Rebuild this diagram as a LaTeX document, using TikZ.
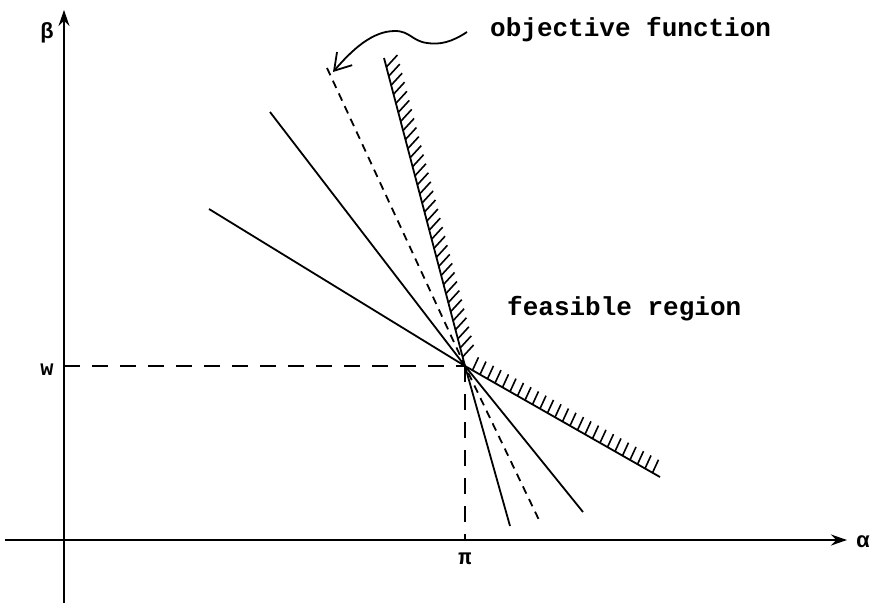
\documentclass[tikz,border=0pt]{standalone}
\usepackage{fontspec}
\setmonofont{Liberation Mono}
\usetikzlibrary{arrows.meta,calc}
\begin{document}
\begin{tikzpicture}[x=1pt,y=-1pt,
  ax/.style={line width=1.9pt},
  ln/.style={line width=1.8pt},
  obj/.style={line width=1.8pt, dash pattern=on 8pt off 6pt},
  guide/.style={line width=1.6pt, dash pattern=on 16pt off 12pt},
  hatch/.style={line width=1.6pt},
  lbl/.style={font=\ttfamily\bfseries\fontsize{26}{30}\selectfont, inner sep=0pt},
  sym/.style={font=\ttfamily\bfseries\fontsize{22}{26}\selectfont, inner sep=0pt}]
\useasboundingbox (0,0) rectangle (874,603);
\fill[white] (0,0) rectangle (874,603);
% axes
\coordinate (ytop) at (64,10);
\coordinate (ybot) at (64,603);
\coordinate (xl) at (5,540);
\coordinate (xr) at (847,540);
\draw[ax,-{Stealth[length=16pt,width=11pt]}] (ybot) -- (ytop);
\draw[ax,-{Stealth[length=16pt,width=11pt]}] (xl) -- (xr);
\node[sym] (beta) at (47,33) {β};
\node[sym] (alpha) at (863,542) {α};
% vertex and guides
\coordinate (V) at (465,366);
\coordinate (wpt) at (64,366);
\coordinate (ppt) at (465,540);
\draw[guide] (wpt) -- (V);
\draw[guide] (V) -- (ppt);
\node[sym] (w) at (47,370) {w};
\node[sym] (pi) at (465,559) {π};
% supporting lines
\coordinate (u1) at (209,209);
\coordinate (u2) at (270,112);
\coordinate (uo) at (327,68);
\coordinate (d1) at (510,526);
\coordinate (do) at (540,522);
\coordinate (d2) at (583,512);
\draw[ln] (u1) -- (V);
\draw[ln] (u2) -- (V) -- (d2);
\draw[ln] (V) -- (d1);
\draw[obj] (uo) -- (V) -- (do);
% feasible boundary
\coordinate (A1) at (384,58);
\coordinate (B1) at (660,477);
\draw[ln] (A1) -- (V) -- (B1);
\foreach \i in {1,...,33} {
  \draw[hatch] ($(A1)!{\i/34}!(V)$) -- ++(11,-12);
}
\foreach \i in {1,...,25} {
  \draw[hatch] ($(V)!{\i/26}!(B1)$) -- ++(6,-13);
}
% labels
\node[lbl, anchor=base west] (objlbl) at (490,36) {objective function};
\node[lbl, anchor=base west] (feas) at (507,315) {feasible region};
% curved arrow
\coordinate (s) at (467,32);
\coordinate (tr) at (427,43);
\coordinate (cr) at (395,31);
\coordinate (tip) at (333,72);
\draw[ln, -{Straight Barb[length=16pt,width=20pt,line width=1.8pt]}]
  (s) .. controls (452,42) and (440,45) .. (tr)
      .. controls (412,41) and (410,31) .. (cr)
      .. controls (372,31) and (352,50) .. (tip);
\end{tikzpicture}
\end{document}
